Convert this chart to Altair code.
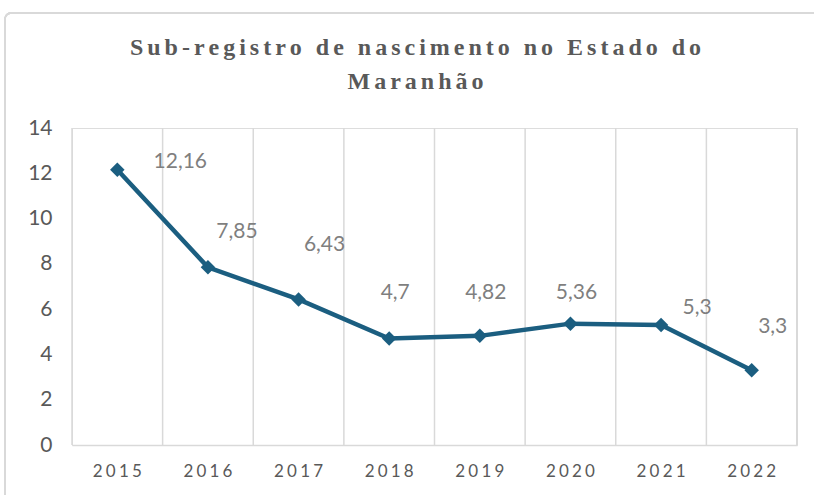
import altair as alt
import pandas as pd

years = ["2015", "2016", "2017", "2018", "2019", "2020", "2021", "2022"]
values = [12.16, 7.85, 6.43, 4.7, 4.82, 5.36, 5.3, 3.3]
labels = ["12,16", "7,85", "6,43", "4,7", "4,82", "5,36", "5,3", "3,3"]
# pixel offsets of the data labels (placed by hand in the original)
label_dx = [63, 29, 26, 6, 6, 6, 36, 21]
label_dy = [-8, -35, -54, -46, -43, -31, -17, -43]
y_ticks = [0, 2, 4, 6, 8, 10, 12, 14]

title_lines = ["Sub-registro de nascimento no Estado do", "Maranhão"]
SP = "\u2006"
title_text = [SP.join(list(t)) for t in title_lines]

df = pd.DataFrame({"year": years, "value": values, "label": labels})

W, H = 725, 317
LINE = "#1B5E80"
GRID = "#D9D9D9"
TXT = "#595959"

xscale = alt.Scale(paddingInner=0, paddingOuter=0, type="band")
yscale = alt.Scale(domain=[0, 14])

base = alt.Chart(df)

grid = base.mark_rule(color=GRID, strokeWidth=1.5).encode(
    x=alt.X("year:N", scale=xscale, bandPosition=0, sort=years,
            axis=alt.Axis(title=None, grid=False, ticks=False, domain=True,
                          domainColor=GRID, domainWidth=1.5, labelAngle=0,
                          labelFont="Lato", labelFontSize=17, labelColor=TXT,
                          labelPadding=18,
                          labelExpr="join(split(datum.label, ''), '\u2009\u200a')")),
)

right_edge = base.mark_rule(color=GRID, strokeWidth=1.5).encode(
    x=alt.value(W), y=alt.value(0), y2=alt.value(H)
)

line = base.mark_line(color=LINE, strokeWidth=4.5).encode(
    x=alt.X("year:N", scale=xscale, bandPosition=0.5, sort=years),
    y=alt.Y("value:Q", scale=yscale,
            axis=alt.Axis(title=None, values=y_ticks, grid=False, ticks=False,
                          domain=False, labelFont="Lato", labelFontSize=21,
                          labelColor=TXT, labelPadding=20)),
)

points = base.mark_point(shape="diamond", filled=True, color=LINE, size=210,
                         opacity=1).encode(
    x=alt.X("year:N", scale=xscale, bandPosition=0.5, sort=years),
    y=alt.Y("value:Q", scale=yscale),
)

label_layers = []
for i in range(len(years)):
    label_layers.append(
        alt.Chart(df.iloc[[i]]).mark_text(
            font="Lato", fontSize=21, color="#7F7F7F", baseline="middle",
            align="center", dx=label_dx[i], dy=label_dy[i]
        ).encode(
            x=alt.X("year:N", scale=xscale, bandPosition=0.5, sort=years),
            y=alt.Y("value:Q", scale=yscale),
            text="label:N",
        )
    )

title_layers = []
for j, t in enumerate(title_text):
    title_layers.append(
        alt.Chart(pd.DataFrame({"t": [t]})).mark_text(
            font="Liberation Serif", fontWeight="bold", fontSize=24,
            color=TXT, baseline="middle", align="center"
        ).encode(
            x=alt.value(W / 2 - 19), y=alt.value(-80 + 34 * j), text="t:N"
        )
    )

border = base.mark_rect(fill=None, stroke=GRID, strokeWidth=1.5,
                        cornerRadius=6).encode(
    x=alt.value(-67), x2=alt.value(W + 40),
    y=alt.value(-115), y2=alt.value(H + 80),
)

chart = alt.layer(border, grid, right_edge, line, points,
                  *label_layers, *title_layers).properties(
    width=W, height=H,
    autosize=alt.AutoSizeParams(type="none"),
    padding={"left": 72, "top": 128, "right": 17, "bottom": 50},
).configure_view(stroke=None).configure(background="white")

chart.save("out.html", embed_options={"renderer": "svg", "actions": False})
